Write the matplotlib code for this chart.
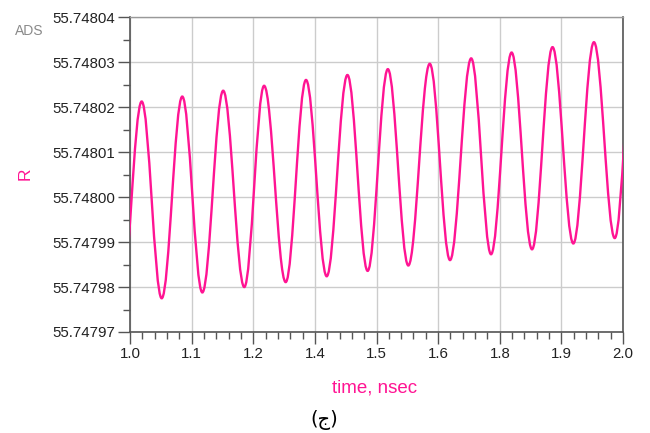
import matplotlib
matplotlib.use("Agg")
import matplotlib.pyplot as plt
from matplotlib.path import Path
from matplotlib.patches import PathPatch

# Valores (tempo em nsec, R)
# picos e vales da oscilacao, em ordem; o primeiro vale e o ultimo pico ficam fora da janela
t_extremos = [0.9815, 1.0237, 1.0643, 1.106, 1.1467, 1.189, 1.2318, 1.272, 1.3158,
              1.357, 1.399, 1.441, 1.482, 1.523, 1.5645, 1.608, 1.6491, 1.692,
              1.7323, 1.774, 1.8154, 1.857, 1.8992, 1.941, 1.9832, 2.023]
r_extremos = [55.7479760, 55.7480213, 55.7479775, 55.7480224, 55.7479788, 55.7480237,
              55.7479800, 55.7480248, 55.7479811, 55.7480261, 55.7479824, 55.7480272,
              55.7479836, 55.7480285, 55.7479848, 55.7480297, 55.7479860, 55.7480309,
              55.7479873, 55.7480322, 55.7479884, 55.7480334, 55.7479897, 55.7480345,
              55.7479909, 55.7480360]

x_ticks = [1.0, 1.125, 1.25, 1.375, 1.5, 1.625, 1.75, 1.875, 2.0]
x_labels = ["1.0", "1.1", "1.2", "1.4", "1.5", "1.6", "1.8", "1.9", "2.0"]
y_ticks = [55.74797, 55.74798, 55.74799, 55.74800, 55.74801, 55.74802, 55.74803, 55.74804]
y_labels = ["55.74797", "55.74798", "55.74799", "55.74800", "55.74801", "55.74802",
            "55.74803", "55.74804"]

rosa = "#ff1493"
plt.rcParams["font.family"] = ["Liberation Sans", "DejaVu Sans"]

fig = plt.figure(figsize=(6.5, 4.33), dpi=100)
ax = fig.add_axes([0.2, 0.2333, 0.7585, 0.7263])

# curva suave entre os extremos (bezier cubica com tangente horizontal nos extremos)
a = 0.3642
verts = [(t_extremos[0], r_extremos[0])]
codes = [Path.MOVETO]
for i in range(len(t_extremos) - 1):
    t0, r0 = t_extremos[i], r_extremos[i]
    t1, r1 = t_extremos[i + 1], r_extremos[i + 1]
    dt = t1 - t0
    verts += [(t0 + a * dt, r0), (t1 - a * dt, r1), (t1, r1)]
    codes += [Path.CURVE4, Path.CURVE4, Path.CURVE4]
curva = PathPatch(Path(verts, codes), fill=False, edgecolor=rosa, linewidth=1.7, zorder=3)
ax.add_patch(curva)

ax.set_xlim(1.0, 2.0)
ax.set_ylim(55.74797, 55.74804)

ax.set_xticks(x_ticks)
ax.set_xticklabels(x_labels)
ax.set_yticks(y_ticks)
ax.set_yticklabels(y_labels)
ax.set_xticks([1.0 + 0.025 * k for k in range(41)], minor=True)
ax.set_yticks([55.747975 + 0.00001 * k for k in range(7)], minor=True)

ax.grid(True, which="major", color="#cccccc", linewidth=1.0)
ax.tick_params(which="major", length=8.5, width=1.0, color="#555555",
               labelsize=10.8, labelcolor="#222222", pad=2.0)
ax.tick_params(which="minor", length=5, width=1.0, color="#555555")

for lado in ["left", "bottom", "right"]:
    ax.spines[lado].set_color("#555555")
    ax.spines[lado].set_linewidth(1.2)
ax.spines["top"].set_color("#999999")
ax.spines["top"].set_linewidth(1.0)

ax.set_xlabel("time, nsec", color=rosa, fontsize=13.5, va="center")
ax.xaxis.set_label_coords(0.497, -0.178)
fig.text(0.038, 0.598, "R", color=rosa, fontsize=12.5, rotation=90, ha="center", va="center")
fig.text(0.045, 0.928, "ADS", color="#8a8a8a", fontsize=10, ha="center", va="center")
fig.text(0.499, 0.030, "(ج)", color="black", fontsize=14, ha="center", va="center",
         family=["DejaVu Sans"])

fig.savefig("out.png", dpi=100)
